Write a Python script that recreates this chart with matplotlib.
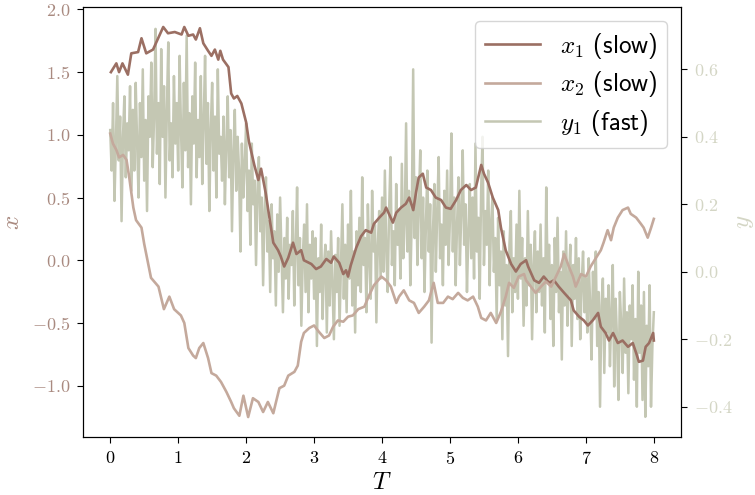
import numpy as np
import matplotlib
matplotlib.use("Agg")
import matplotlib.pyplot as plt

plt.rcParams['font.family'] = 'serif'
plt.rcParams['font.serif'] = ['cmr10']
plt.rcParams['mathtext.fontset'] = 'cm'
plt.rcParams['axes.formatter.use_mathtext'] = True
plt.rcParams['axes.unicode_minus'] = True

# ---- data ----
x1_t = [0.01, 0.09, 0.13, 0.18, 0.26, 0.31, 0.41, 0.46, 0.53, 0.63, 0.68, 0.78, 0.85, 0.95,
        1.05, 1.09, 1.15, 1.22, 1.26, 1.32, 1.37, 1.44, 1.49, 1.54, 1.59, 1.62, 1.66, 1.74,
        1.78, 1.82, 1.87, 1.93, 2.00, 2.04, 2.12, 2.18, 2.22, 2.29, 2.34, 2.40, 2.47, 2.51,
        2.56, 2.62, 2.69, 2.74, 2.81, 2.85, 2.96, 3.03, 3.10, 3.18, 3.25, 3.29, 3.37, 3.43,
        3.47, 3.50, 3.54, 3.62, 3.69, 3.76, 3.84, 3.88, 3.96, 4.03, 4.06, 4.16, 4.21, 4.28,
        4.35, 4.40, 4.46, 4.50, 4.54, 4.60, 4.65, 4.72, 4.79, 4.87, 4.94, 5.01, 5.09, 5.16,
        5.24, 5.31, 5.38, 5.46, 5.50, 5.56, 5.63, 5.71, 5.75, 5.82, 5.90, 5.97, 6.04, 6.12,
        6.15, 6.24, 6.31, 6.38, 6.46, 6.53, 6.60, 6.68, 6.78, 6.82, 6.90, 6.97, 7.03, 7.10,
        7.18, 7.22, 7.29, 7.34, 7.40, 7.47, 7.54, 7.62, 7.69, 7.74, 7.78, 7.84, 7.88, 7.93,
        7.99, 8.00]
x1_v = [1.50, 1.57, 1.50, 1.57, 1.48, 1.65, 1.66, 1.77, 1.65, 1.68, 1.74, 1.86, 1.81, 1.82,
        1.80, 1.86, 1.79, 1.80, 1.76, 1.85, 1.73, 1.67, 1.63, 1.68, 1.60, 1.67, 1.60, 1.54,
        1.33, 1.29, 1.31, 1.25, 1.10, 0.95, 0.76, 0.64, 0.73, 0.53, 0.35, 0.14, 0.08, 0.03,
        -0.05, 0.02, 0.14, 0.05, 0.08, 0.00, -0.03, -0.07, -0.05, 0.01, -0.02, 0.03, -0.02, -0.11,
        -0.08, -0.13, -0.04, 0.10, 0.19, 0.24, 0.22, 0.29, 0.34, 0.38, 0.42, 0.30, 0.38, 0.42,
        0.45, 0.50, 0.40, 0.54, 0.66, 0.69, 0.58, 0.56, 0.50, 0.48, 0.42, 0.41, 0.48, 0.56,
        0.60, 0.56, 0.58, 0.76, 0.69, 0.62, 0.50, 0.40, 0.26, 0.08, -0.03, -0.09, -0.03, 0.00,
        -0.05, -0.16, -0.18, -0.13, -0.18, -0.16, -0.21, -0.26, -0.32, -0.40, -0.45, -0.48, -0.52, -0.48,
        -0.42, -0.53, -0.58, -0.64, -0.58, -0.66, -0.64, -0.69, -0.66, -0.74, -0.81, -0.80, -0.69, -0.66,
        -0.58, -0.64]

x2_t = [0.00, 0.04, 0.09, 0.13, 0.19, 0.24, 0.28, 0.34, 0.38, 0.46, 0.50, 0.60, 0.71, 0.79,
        0.87, 0.94, 1.04, 1.09, 1.15, 1.22, 1.26, 1.31, 1.37, 1.44, 1.49, 1.56, 1.63, 1.71,
        1.78, 1.82, 1.90, 1.96, 2.03, 2.10, 2.18, 2.25, 2.32, 2.40, 2.44, 2.49, 2.56, 2.62,
        2.71, 2.76, 2.81, 2.85, 2.93, 3.00, 3.07, 3.15, 3.22, 3.28, 3.35, 3.43, 3.50, 3.57,
        3.65, 3.74, 3.81, 3.88, 3.99, 4.06, 4.13, 4.21, 4.25, 4.32, 4.40, 4.47, 4.54, 4.62,
        4.69, 4.76, 4.82, 4.90, 4.97, 5.04, 5.12, 5.19, 5.26, 5.34, 5.41, 5.46, 5.53, 5.60,
        5.68, 5.75, 5.82, 5.87, 5.94, 6.01, 6.09, 6.12, 6.19, 6.26, 6.34, 6.41, 6.49, 6.56,
        6.63, 6.68, 6.75, 6.81, 6.85, 6.93, 7.00, 7.07, 7.15, 7.22, 7.26, 7.32, 7.37, 7.41,
        7.47, 7.54, 7.62, 7.66, 7.74, 7.81, 7.85, 7.91, 7.96, 8.00]
x2_v = [1.01, 0.93, 0.88, 0.82, 0.84, 0.80, 0.66, 0.42, 0.32, 0.26, 0.13, -0.14, -0.21, -0.39,
        -0.29, -0.39, -0.44, -0.50, -0.70, -0.76, -0.78, -0.70, -0.66, -0.78, -0.90, -0.92, -0.97, -1.05,
        -1.13, -1.18, -1.24, -1.08, -1.25, -1.10, -1.13, -1.21, -1.13, -1.22, -1.13, -1.02, -1.00, -0.92,
        -0.89, -0.84, -0.65, -0.58, -0.54, -0.52, -0.57, -0.62, -0.60, -0.53, -0.48, -0.49, -0.45, -0.44,
        -0.39, -0.37, -0.28, -0.20, -0.13, -0.16, -0.21, -0.34, -0.29, -0.24, -0.32, -0.34, -0.42, -0.37,
        -0.32, -0.18, -0.34, -0.34, -0.29, -0.31, -0.26, -0.30, -0.32, -0.29, -0.37, -0.46, -0.48, -0.42,
        -0.50, -0.41, -0.29, -0.18, -0.22, -0.13, -0.11, -0.16, -0.21, -0.26, -0.21, -0.17, -0.21, -0.13,
        -0.05, 0.05, -0.05, -0.13, -0.21, -0.11, -0.13, -0.05, 0.02, 0.08, 0.14, 0.24, 0.16, 0.26,
        0.34, 0.40, 0.42, 0.37, 0.34, 0.29, 0.26, 0.18, 0.26, 0.33]

y1_v = [0.42, 0.30, 0.50, 0.21, 0.38, 0.58, 0.33, 0.46, 0.15, 0.40, 0.52, 0.28, 0.44, 0.36, 0.55, 0.24,
        0.48, 0.30, 0.56, 0.38, 0.22, 0.50, 0.34, 0.60, 0.27, 0.45, 0.18, 0.52, 0.40, 0.62, 0.31, 0.46,
        0.72, 0.35, 0.50, 0.26, 0.66, 0.40, 0.55, 0.22, 0.48, 0.68, 0.33, 0.44, 0.28, 0.58, 0.38, 0.50,
        0.30, 0.64, 0.42, 0.25, 0.56, 0.36, 0.70, 0.31, 0.47, 0.20, 0.52, 0.38, 0.62, 0.28, 0.45, 0.34,
        0.58, 0.26, 0.44, 0.64, 0.32, 0.50, 0.18, 0.42, 0.56, 0.30, 0.46, 0.22, 0.60, 0.35, 0.40, 0.27,
        0.46, 0.20, 0.38, 0.52, 0.28, 0.42, 0.12, 0.36, 0.48, 0.24, 0.40, 0.30, 0.06, 0.38, 0.22, 0.32,
        0.44, 0.18, 0.30, 0.08, 0.38, 0.20, 0.27, 0.02, 0.24, 0.34, 0.12, 0.22, -0.04, 0.18, 0.28, 0.06,
        0.15, -0.06, 0.20, 0.04, 0.12, -0.10, 0.17, 0.00, 0.22, 0.05, -0.12, 0.10, -0.02, 0.16, -0.08, 0.08,
        0.02, 0.18, -0.10, 0.06, 0.25, -0.04, 0.10, -0.16, 0.04, 0.14, -0.06, 0.20, -0.12, 0.08, -0.02, 0.12,
        -0.08, 0.10, -0.22, 0.04, -0.06, 0.14, -0.14, 0.02, 0.08, -0.18, 0.06, -0.10, 0.12, -0.04, -0.20, 0.05,
        -0.06, 0.10, -0.16, 0.02, 0.20, -0.08, 0.08, -0.12, 0.14, -0.02, 0.24, -0.10, 0.06, -0.18, 0.12, -0.04,
        0.16, -0.06, 0.28, 0.02, 0.10, -0.12, 0.20, 0.04, -0.08, 0.24, 0.06, 0.14, -0.15, 0.08, 0.18, -0.02,
        0.22, 0.00, 0.30, 0.06, -0.06, 0.18, 0.34, 0.02, 0.12, -0.04, 0.26, 0.08, 0.18, -0.02, 0.32, 0.04,
        0.14, 0.44, 0.06, 0.24, -0.04, 0.16, 0.60, 0.10, 0.28, 0.02, 0.20, 0.36, 0.04, 0.22, -0.06, 0.14,
        0.30, 0.06, 0.20, -0.21, 0.12, 0.26, 0.00, 0.18, 0.34, 0.04, 0.14, -0.04, 0.24, 0.08, 0.30, 0.02,
        0.16, 0.41, 0.06, 0.22, -0.04, 0.14, 0.28, 0.02, 0.18, 0.36, 0.08, 0.20, -0.06, 0.12, 0.26, 0.04,
        0.22, -0.02, 0.38, 0.06, 0.16, -0.08, 0.24, 0.40, 0.02, 0.18, 0.08, 0.30, -0.04, 0.14, 0.22, 0.00,
        0.10, -0.14, 0.16, -0.04, 0.06, -0.20, 0.12, -0.10, 0.02, -0.25, 0.08, 0.18, -0.12, 0.04, -0.06, 0.14,
        -0.08, 0.24, -0.02, 0.10, -0.16, 0.04, -0.10, 0.18, -0.04, 0.08, -0.20, 0.02, 0.12, -0.12, 0.06, -0.06,
        0.14, -0.10, 0.04, -0.18, 0.25, -0.02, 0.08, -0.14, 0.02, -0.22, 0.10, -0.06, 0.16, -0.12, 0.00, -0.26,
        0.06, -0.10, 0.12, -0.16, -0.02, 0.08, -0.22, 0.02, -0.08, 0.10, -0.14, 0.04, -0.20, -0.04, 0.06, -0.12,
        -0.02, -0.18, 0.04, -0.10, -0.26, 0.00, -0.14, 0.06, -0.22, -0.06, -0.40, -0.10, -0.02, -0.30, -0.08, -0.18,
        -0.04, -0.28, -0.12, 0.02, -0.34, -0.08, -0.20, -0.38, -0.06, -0.16, -0.30, -0.02, -0.24, -0.12, -0.36, -0.10,
        -0.20, -0.04, -0.32, -0.14, -0.40, 0.00, -0.24, -0.10, -0.38, -0.06, -0.43, -0.16, -0.28, -0.04, -0.40, -0.22,
        -0.12]
y1_t = np.linspace(0, 8, len(y1_v))

labels = [r'$x_1$ (slow)', r'$x_2$ (slow)', r'$y_1$ (fast)']
c_x1 = '#9b6f63'
c_x2 = '#c4a99c'
c_y1 = '#c4c7b3'
c_left_ticks = '#a98a80'
c_right_ticks = '#d4d6c5'

fig = plt.figure(figsize=(7.55, 4.95), dpi=100)
ax = fig.add_axes([0.110, 0.117, 0.792, 0.869])
ax2 = ax.twinx()

l3, = ax2.plot(y1_t, y1_v, color=c_y1, lw=1.8, label=labels[2])
l1, = ax.plot(x1_t, x1_v, color=c_x1, lw=1.9, label=labels[0])
l2, = ax.plot(x2_t, x2_v, color=c_x2, lw=1.9, label=labels[1])

ax.set_zorder(ax2.get_zorder() + 1)
ax.patch.set_visible(False)

ax.set_xlim(-0.4, 8.4)
ax.set_ylim(-1.41, 2.02)
ax2.set_ylim(-0.49, 0.785)
ax.set_xticks(range(0, 9))
ax.set_yticks([-1.0, -0.5, 0.0, 0.5, 1.0, 1.5, 2.0])
ax2.set_yticks([-0.4, -0.2, 0.0, 0.2, 0.4, 0.6])

ax.tick_params(axis='both', labelsize=13, length=4.5, pad=4.5)
ax.tick_params(axis='y', labelcolor=c_left_ticks)
ax2.tick_params(axis='y', labelsize=13, labelcolor=c_right_ticks, length=4.5, pad=4.5)

ax.set_xlabel(r'$T$', fontsize=18, labelpad=4)
ax.set_ylabel(r'$x$', fontsize=18, color=c_left_ticks, labelpad=6)
ax2.set_ylabel(r'$y$', fontsize=18, color=c_right_ticks, labelpad=1)

leg = ax.legend(handles=[l1, l2, l3], loc='upper right',
                prop={'family': 'cmss10', 'size': 18}, handlelength=2.2,
                labelspacing=0.35, borderaxespad=0.55)

fig.savefig('out.png', dpi=100)
